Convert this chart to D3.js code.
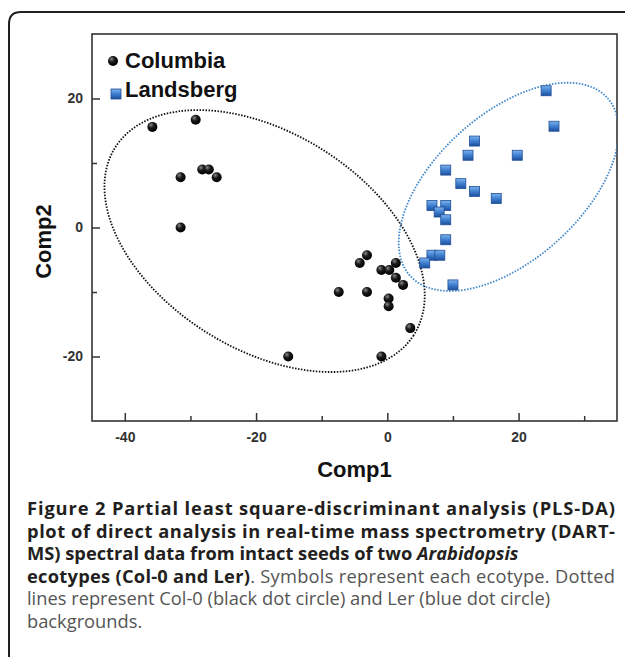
<!DOCTYPE html>
<html>
<head>
<meta charset="utf-8">
<script src="https://cdn.jsdelivr.net/npm/d3@7/dist/d3.min.js"></script>
<style>
  body { margin: 0; background: #fff; }
  .tick text { font-family: "Liberation Sans", Arial, sans-serif; font-weight: bold; font-size: 14px; fill: #333; }
  .tick line { stroke: #333; stroke-width: 1.5; }
  .caption { font-family: "Open Sans", sans-serif; font-size: 18.3px; }
</style>
</head>
<body>
<script>
// scores
var columbiaX = [-35.8, -29.2, -31.5, -28.2, -27.2, -26.0, -31.5, -15.1, -3.1, -4.2, 1.3, -0.9, 0.3, 1.3, 2.4, -7.4, -3.1, 0.2, 0.2, 3.5, -0.9];
var columbiaY = [15.6, 16.7, 7.8, 9.0, 9.0, 7.8, 0.0, -20.0, -4.3, -5.5, -5.5, -6.6, -6.6, -7.8, -8.9, -10.0, -10.0, -11.0, -12.2, -15.6, -20.0];
var landsbergX = [24.2, 25.4, 13.3, 12.3, 19.8, 8.9, 11.2, 13.3, 16.6, 6.8, 8.9, 7.9, 8.9, 8.9, 6.8, 8.0, 5.7, 10.0];
var landsbergY = [21.2, 15.7, 13.4, 11.2, 11.2, 8.9, 6.8, 5.6, 4.5, 3.4, 3.4, 2.4, 1.2, -1.9, -4.3, -4.3, -5.5, -8.9];

// ellipses: centre x, centre y, semi-axis a, semi-axis b, angle (deg)
var columbiaEllipse = [-18.7, -2.1, 27.0, 16.7, -33];
var landsbergEllipse = [18.5, 6.3, 20.4, 11.2, 43];

var xDomain = [-45, 35];
var yDomain = [-30, 30];
var xMajor = [-40, -20, 0, 20];
var xMinor = [-30, -10, 10, 30];
var yMajor = [-20, 0, 20];
var yMinor = [-10, 10];
var seriesNames = ['Columbia', 'Landsberg'];

var width = 627, height = 657;
var margin = { left: 92, top: 34, right: 10, bottom: 236 };
var plotW = width - margin.left - margin.right;
var plotH = height - margin.top - margin.bottom;

var svg = d3.select('body')
  .append('svg')
  .attr('width', width)
  .attr('height', height);

var defs = svg.append('defs');
var sphere = defs.append('radialGradient')
  .attr('id', 'sphere')
  .attr('cx', '40%').attr('cy', '35%').attr('r', '65%')
  .attr('fx', '35%').attr('fy', '30%');
sphere.append('stop').attr('offset', '0%').attr('stop-color', '#8a8a8a');
sphere.append('stop').attr('offset', '45%').attr('stop-color', '#1a1a1a');
sphere.append('stop').attr('offset', '100%').attr('stop-color', '#000');

var tile = defs.append('linearGradient')
  .attr('id', 'tile')
  .attr('x1', 0).attr('y1', 0).attr('x2', 0).attr('y2', 1);
tile.append('stop').attr('offset', '0%').attr('stop-color', '#7fb3ee');
tile.append('stop').attr('offset', '50%').attr('stop-color', '#3f7fd0');
tile.append('stop').attr('offset', '100%').attr('stop-color', '#1d4f9c');

defs.append('clipPath').attr('id', 'plotclip')
  .append('rect').attr('width', plotW).attr('height', plotH);

// outer figure frame
svg.append('path')
  .attr('d', 'M9,657 V24 Q9,12 21,12 H625')
  .attr('fill', 'none')
  .attr('stroke', '#231f20')
  .attr('stroke-width', 2);

var g = svg.append('g')
  .attr('transform', 'translate(' + margin.left + ',' + margin.top + ')');

var x = d3.scaleLinear().domain(xDomain).range([0, plotW]);
var y = d3.scaleLinear().domain(yDomain).range([plotH, 0]);

function minus(d) { return d < 0 ? '-' + Math.abs(d) : d; }
function noDomain(a) { a.select('.domain').remove(); }

// axes, ticks pointing inward
g.append('g')
  .attr('transform', 'translate(0,' + plotH + ')')
  .call(d3.axisBottom(x).tickValues(xMajor).tickSize(-8).tickPadding(11).tickFormat(minus))
  .call(noDomain);
g.append('g')
  .attr('transform', 'translate(0,' + plotH + ')')
  .call(d3.axisBottom(x).tickValues(xMinor).tickSize(-5).tickFormat(''))
  .call(noDomain);
g.append('g')
  .call(d3.axisLeft(y).tickValues(yMajor).tickSize(-8).tickPadding(9).tickFormat(minus))
  .call(noDomain);
g.append('g')
  .call(d3.axisLeft(y).tickValues(yMinor).tickSize(-5).tickFormat(''))
  .call(noDomain);

g.append('rect')
  .attr('width', plotW)
  .attr('height', plotH)
  .attr('fill', 'none')
  .attr('stroke', '#333')
  .attr('stroke-width', 1.6);

// dotted ellipses
function ellipsePoints(e) {
  var pts = [];
  var th = e[4] * Math.PI / 180;
  for (var k = 0; k < 180; k++) {
    var t = k / 180 * 2 * Math.PI;
    var u = e[2] * Math.cos(t), v = e[3] * Math.sin(t);
    pts.push([e[0] + u * Math.cos(th) - v * Math.sin(th), e[1] + u * Math.sin(th) + v * Math.cos(th)]);
  }
  return pts;
}
var ellipseLine = d3.line()
  .x(function(d) { return x(d[0]); })
  .y(function(d) { return y(d[1]); })
  .curve(d3.curveLinearClosed);

var clip = g.append('g').attr('clip-path', 'url(#plotclip)');
clip.append('path')
  .attr('d', ellipseLine(ellipsePoints(columbiaEllipse)))
  .attr('fill', 'none')
  .attr('stroke', '#111')
  .attr('stroke-width', 1.8)
  .attr('stroke-dasharray', '1.5,1.5');
clip.append('path')
  .attr('d', ellipseLine(ellipsePoints(landsbergEllipse)))
  .attr('fill', 'none')
  .attr('stroke', '#3f86c8')
  .attr('stroke-width', 1.8)
  .attr('stroke-dasharray', '1.5,1.5');

// Columbia points
g.selectAll('circle.col')
  .data(columbiaX)
  .enter()
  .append('circle')
  .attr('class', 'col')
  .attr('cx', function(d) { return x(d); })
  .attr('cy', function(d, i) { return y(columbiaY[i]); })
  .attr('r', 5)
  .attr('fill', 'url(#sphere)');

// Landsberg points
var sq = 10;
g.selectAll('rect.ler')
  .data(landsbergX)
  .enter()
  .append('rect')
  .attr('class', 'ler')
  .attr('x', function(d) { return x(d) - sq / 2; })
  .attr('y', function(d, i) { return y(landsbergY[i]) - sq / 2; })
  .attr('width', sq)
  .attr('height', sq)
  .attr('fill', 'url(#tile)')
  .attr('stroke', '#1f4f96')
  .attr('stroke-width', 0.8);

// legend
var legend = g.append('g').attr('transform', 'translate(21,27)');
legend.append('circle').attr('cx', 0).attr('cy', 0).attr('r', 5).attr('fill', 'url(#sphere)');
legend.append('rect').attr('x', -2).attr('y', 28).attr('width', sq).attr('height', sq)
  .attr('fill', 'url(#tile)').attr('stroke', '#1f4f96').attr('stroke-width', 0.8);
legend.selectAll('text')
  .data(seriesNames)
  .enter()
  .append('text')
  .attr('x', 12)
  .attr('y', function(d, i) { return 7 + i * 29; })
  .attr('font-family', '"Liberation Sans", Arial, sans-serif')
  .attr('font-weight', 'bold')
  .attr('font-size', 22)
  .attr('fill', '#111')
  .text(function(d) { return d; });

// axis titles
g.append('text')
  .attr('x', plotW / 2)
  .attr('y', plotH + 56)
  .attr('text-anchor', 'middle')
  .attr('font-family', '"Liberation Sans", Arial, sans-serif')
  .attr('font-weight', 'bold')
  .attr('font-size', 22)
  .attr('fill', '#111')
  .text('Comp1');
g.append('text')
  .attr('transform', 'translate(' + (-41) + ',' + (plotH / 2 + 14) + ') rotate(-90)')
  .attr('text-anchor', 'middle')
  .attr('font-family', '"Liberation Sans", Arial, sans-serif')
  .attr('font-weight', 'bold')
  .attr('font-size', 22)
  .attr('fill', '#111')
  .text('Comp2');

// caption
var captionLines = [
  [['b', 'Figure 2 Partial least square-discriminant analysis (PLS-DA)']],
  [['b', 'plot of direct analysis in real-time mass spectrometry (DART-']],
  [['b', 'MS) spectral data from intact seeds of two '], ['bi', 'Arabidopsis']],
  [['b', 'ecotypes (Col-0 and Ler)'], ['r', '. Symbols represent each ecotype. Dotted']],
  [['r', 'lines represent Col-0 (black dot circle) and Ler (blue dot circle)']],
  [['r', 'backgrounds.']]
];
var justify = [true, true, false, true, false, false];
var capX = 27, capRight = 615, capY = 515, capStep = 22.6;

captionLines.forEach(function(line, i) {
  var t = svg.append('text')
    .attr('class', 'caption')
    .attr('x', capX)
    .attr('y', capY + i * capStep);
  line.forEach(function(seg) {
    t.append('tspan')
      .attr('font-weight', seg[0] === 'r' ? 'normal' : 'bold')
      .attr('font-style', seg[0] === 'bi' ? 'italic' : 'normal')
      .attr('fill', seg[0] === 'r' ? '#555' : '#231f20')
      .text(seg[1]);
  });
  if (justify[i]) {
    t.attr('textLength', capRight - capX).attr('lengthAdjust', 'spacing');
  }
});
</script>
</body>
</html>
